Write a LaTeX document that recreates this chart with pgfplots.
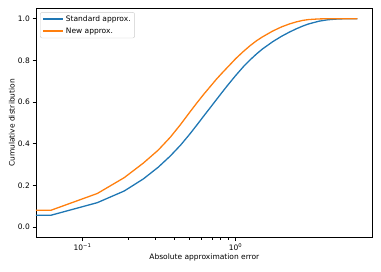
\documentclass[border=0pt]{standalone}
\usepackage{pgfplots}
\pgfplotsset{compat=1.18}
\usepackage{fontspec}
\setmainfont{DejaVu Sans}
\definecolor{mplblue}{HTML}{1F77B4}
\definecolor{mplorange}{HTML}{FF7F0E}
\newcommand{\mplfont}{\fontsize{7.5pt}{9pt}\selectfont}
\begin{document}
\mplfont
\begin{tikzpicture}
\begin{axis}[
  scale only axis,
  width=336.7pt, height=229.4pt,
  xmode=log,
  xmin=0.0497, xmax=7.87,
  ymin=-0.05, ymax=1.05,
  axis line style={line width=0.8pt},
  tick align=outside,
  tick pos=left,
  major tick length=3.5pt,
  minor tick length=2pt,
  every tick/.style={black, line width=0.8pt},
  minor tick style={line width=0.6pt},
  xtick={0.1,1},
  xticklabels={{10\textsuperscript{−1}},{10\textsuperscript{0}}},
  ytick={0,0.2,0.4,0.6,0.8,1.0},
  yticklabel style={/pgf/number format/.cd, fixed, fixed zerofill, precision=1, assume math mode=true},
  ticklabel style={font=\mplfont},
  label style={font=\mplfont},
  xlabel={Absolute approximation error},
  ylabel={Cumulative distribution},
  xlabel style={yshift=2pt},
  ylabel style={yshift=-2pt},
  legend style={draw=black!20, rounded corners=2pt,
    font=\mplfont, inner xsep=2pt, inner ysep=1.5pt,
    at={(0.012,0.983)}, anchor=north west, row sep=1.2pt},
  legend cell align=left,
  legend image code/.code={\path[#1, draw, line width=1.7pt] (0pt,0.5pt) -- (20pt,0.5pt);},
]
\addplot[mplblue, line width=1.3pt] coordinates {
(0.0497,0.058) (0.0625,0.058) (0.125,0.118) (0.1875,0.174) (0.25,0.232)
(0.3125,0.288) (0.375,0.342) (0.4375,0.394) (0.5,0.445) (0.5625,0.493)
(0.625,0.537) (0.6875,0.576) (0.75,0.612) (0.8125,0.645) (0.875,0.675)
(0.9375,0.702) (1.0,0.727) (1.125,0.77) (1.25,0.804) (1.375,0.832)
(1.5,0.855) (1.75,0.89) (2.0,0.916) (2.25,0.936) (2.5,0.952)
(2.75,0.965) (3.0,0.975) (3.5,0.988) (4.0,0.995) (4.5,0.998)
(5.0,0.9995) (5.5,1.0) (6.25,1.0)
};
\addlegendentry{Standard approx.}
\addplot[mplorange, line width=1.3pt] coordinates {
(0.0497,0.082) (0.0625,0.082) (0.125,0.162) (0.1875,0.238) (0.25,0.308)
(0.3125,0.37) (0.375,0.432) (0.4375,0.493) (0.5,0.55) (0.5625,0.599)
(0.625,0.641) (0.6875,0.677) (0.75,0.71) (0.8125,0.738) (0.875,0.763)
(0.9375,0.786) (1.0,0.808) (1.125,0.843) (1.25,0.872) (1.375,0.895)
(1.5,0.913) (1.75,0.941) (2.0,0.961) (2.25,0.975) (2.5,0.985)
(2.75,0.992) (3.0,0.996) (3.5,0.999) (4.0,1.0) (6.25,1.0)
};
\addlegendentry{New approx.}
\end{axis}
\path (current axis.south west) ++(-36pt,-34.3pt) coordinate (bbA);
\path (current axis.north east) ++(8.3pt,8.3pt) coordinate (bbB);
\useasboundingbox (bbA) rectangle (bbB);
\end{tikzpicture}
\end{document}
